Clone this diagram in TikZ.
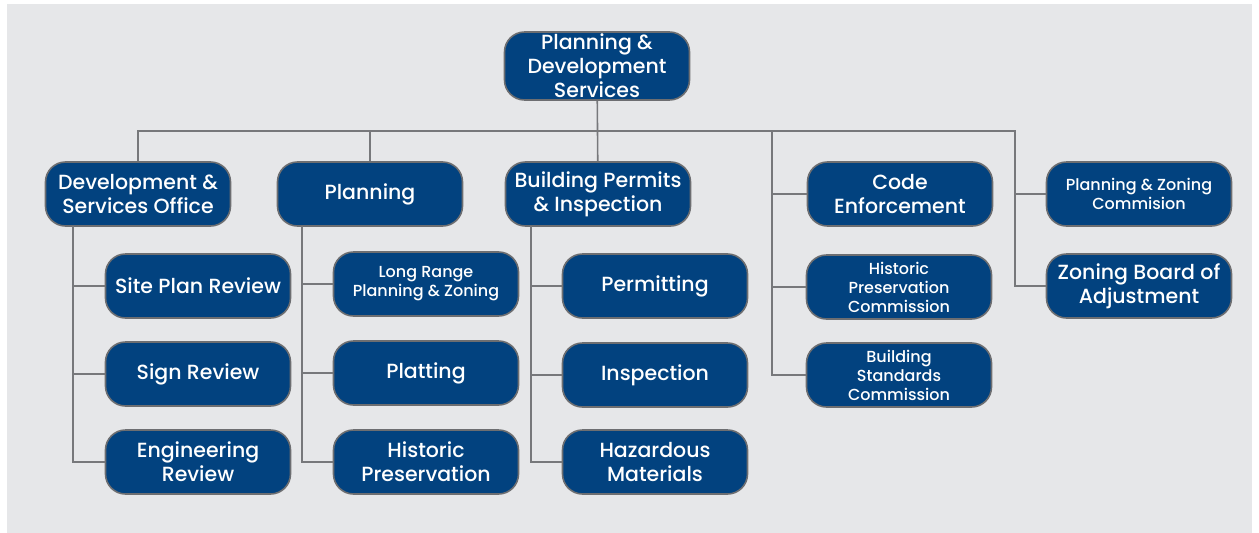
\documentclass[tikz,border=0pt]{standalone}
\usepackage{fontspec}
\setmainfont{Poppins Medium}
\definecolor{panel}{HTML}{E6E7E9}
\definecolor{boxblue}{HTML}{02427F}
\definecolor{edgegray}{HTML}{6D6E71}
\definecolor{linegray}{HTML}{77787B}
\begin{document}
\begin{tikzpicture}[x=1pt,y=-1pt]
		\tikzstyle{unit}=[draw=edgegray,line width=1.6pt,fill=boxblue,text=white,rounded corners=20pt,
			minimum width=185pt,minimum height=64pt,align=center,inner sep=2pt,
			font=\fontsize{20.5}{24}\selectfont]
		\tikzstyle{small}=[font=\fontsize{16}{19}\selectfont]
		\tikzstyle{link}=[draw=linegray,line width=1.6pt]

		\fill[white] (0,0) rectangle (1259,533);
		\fill[panel] (7,4) rectangle (1252,533);

		% top of the tree
		\node[unit](pds) at (597,66){Planning \&\\Development\\Services};

		% first level
		\node[unit](dso) at (138,194){Development \&\\Services Office};
		\node[unit](plan) at (370,194){Planning};
		\node[unit](bpi) at (598,194){Building Permits\\\& Inspection};
		\node[unit](code) at (900,194){Code\\Enforcement};
		\node[unit,small](pzc) at (1139,194){Planning \& Zoning\\Commision};
		\node[unit](zba) at (1139,286){Zoning Board of\\Adjustment};

		% offices under development services
		\node[unit](site) at (198,286){Site Plan Review};
		\node[unit](sign) at (198,374){Sign Review};
		\node[unit](eng) at (198,462){Engineering\\Review};

		% planning
		\node[unit,small](lrp) at (426,284){Long Range\\Planning \& Zoning};
		\node[unit](plat) at (426,373){Platting};
		\node[unit](hist) at (426,462){Historic\\Preservation};

		% building permits
		\node[unit](perm) at (655,286){Permitting};
		\node[unit](insp) at (655,375){Inspection};
		\node[unit](haz) at (655,462){Hazardous\\Materials};

		% commissions
		\node[unit,small](hpc) at (899,287){Historic\\Preservation\\Commission};
		\node[unit,small](bsc) at (899,375){Building\\Standards\\Commission};

		\coordinate (ceTop) at (772,131);
		\coordinate (zbTop) at (1015,131);
		\coordinate (dsoTrunk) at (73,226);
		\coordinate (planTrunk) at (302,226);
		\coordinate (bpiTrunk) at (531,226);

		\draw[link] (pds) -- (bpi);
		\draw[link] (dso.north) |- (zbTop) |- (zba.west);
		\draw[link] (plan.north) -- (plan.north |- zbTop);
		\draw[link] (zbTop |- pzc.west) -- (pzc.west);
		\draw[link] (ceTop) |- (bsc.west);
		\draw[link] (ceTop |- code.west) -- (code.west);
		\draw[link] (ceTop |- hpc.west) -- (hpc.west);

		\draw[link] (dsoTrunk) |- (eng.west);
		\draw[link] (planTrunk) |- (hist.west);
		\draw[link] (bpiTrunk) |- (haz.west);
		\foreach \t/\n in {dsoTrunk/site,dsoTrunk/sign,planTrunk/lrp,planTrunk/plat,bpiTrunk/perm,bpiTrunk/insp}
			\draw[link] (\t |- \n.west) -- (\n.west);
	\end{tikzpicture}
\end{document}
